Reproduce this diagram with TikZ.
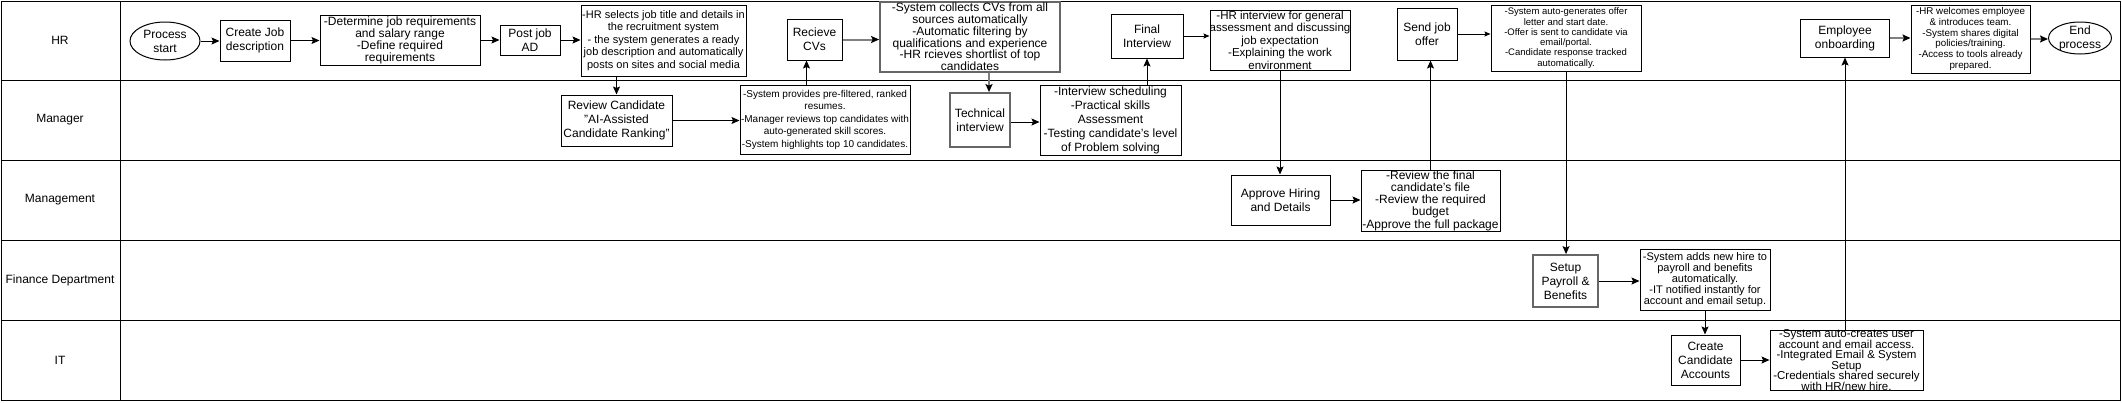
\documentclass[tikz,border=0pt]{standalone}
\usepackage{fontspec}
\setmainfont{Liberation Sans}
\usetikzlibrary{arrows.meta,shapes.geometric}
\newcommand{\fs}[2]{\fontsize{#1}{#2}\selectfont\lineskiplimit=-20pt\relax}
\tikzset{
  box/.style={draw=black, line width=1pt, fill=white, inner sep=0pt, rectangle},
  gbox/.style={draw=black!60, line width=1.8pt, fill=white, inner sep=0pt, rectangle},
  oval/.style={draw=black, line width=1pt, fill=white, ellipse, inner sep=0pt},
  txt/.style={align=center, inner sep=0pt},
  conn/.style={draw=black, line width=1pt, -{Stealth[length=8pt,width=7pt,inset=1.5pt]}},
  thinconn/.style={draw=black, line width=0.8pt, -{Stealth[length=6pt,width=5pt,inset=1pt]}},
  gconn/.style={draw=black!50, line width=2pt, -{Stealth[length=8pt,width=7pt,inset=1.5pt,color=black]}},
  lane/.style={align=center, inner sep=0pt, font=\fs{12}{14}},
  laneline/.style={draw=black, line width=1pt},
}
\newcommand{\bx}[7]{%
  \node[#1, minimum width=#4pt, minimum height=#5pt] (#2) at (#3) {};
  \node[txt, font={#6}] (#2t) at (#2.center) {#7};}
\begin{document}
\begin{tikzpicture}[x=1pt,y=-1pt]
\useasboundingbox (0,0) rectangle (2122,402);
% lanes
\draw[laneline] (1,1) rectangle (2120,400);
\foreach \yy in {80,160,240,320} \draw[laneline] (1,\yy) -- (2120,\yy);
\draw[laneline] (120,1) -- (120,400);
\node[lane] (lhr) at (60,40) {HR};
\node[lane] (lman) at (60,120) {Manager};
\node[lane] (lmgmt) at (60,200) {Management};
\node[lane] (lfin) at (60,280) {Finance Department};
\node[lane] (lit) at (60,360) {IT};
% HR lane
\bx{oval}{start}{165,41}{70}{38}{\fs{12}{14}}{Process\\start}
\bx{box}{cjd}{255,40.5}{70}{41}{\fs{12}{14}}{Create Job\\description}
\bx{box}{det}{400,40}{160}{50}{\fs{12}{12}}{-Determine job requirements\\and salary range\\-Define required\\requirements}
\bx{box}{post}{530,40}{60}{30}{\fs{12}{14}}{Post job\\AD}
\bx{box}{hrsel}{663.5,40.5}{165}{71}{\fs{11}{12.5}}{-HR selects job title and details in\\the recruitment system\\- the system generates a ready\\job description and automatically\\posts on sites and social media}
\bx{box}{rcv}{814.5,39.5}{55}{41}{\fs{12}{14}}{Recieve\\CVs}
\bx{gbox}{col}{970,37}{180}{70}{\fs{12}{11.8}}{-System collects CVs from all\\sources automatically\\-Automatic filtering by\\qualifications and experience\\-HR rcieves shortlist of top\\candidates}
\bx{box}{fin}{1147,36}{72}{44}{\fs{12}{14}}{Final\\Interview}
\bx{box}{hri}{1280,40}{140}{60}{\fs{11.5}{12.5}}{-HR interview for general\\assessment and discussing\\job expectation\\-Explaining the work\\environment}
\bx{box}{sjo}{1427,34}{60}{52}{\fs{12}{14}}{Send job\\offer}
\bx{box}{sag}{1566,38}{150}{66}{\fs{9.5}{10.3}}{-System auto-generates offer\\letter and start date.\\-Offer is sent to candidate via\\email/portal.\\-Candidate response tracked\\automatically.}
\bx{box}{onb}{1845,38}{89}{38}{\fs{12}{14}}{Employee\\onboarding}
\bx{box}{hrw}{1970.5,39}{119}{68}{\fs{9.8}{10.9}}{-HR welcomes employee\\\& introduces team.\\-System shares digital\\policies/training.\\-Access to tools already\\prepared.}
\bx{oval}{endp}{2080,38}{63}{32}{\fs{12}{14}}{End\\process}
% Manager lane
\bx{box}{rvc}{616.5,120.5}{111}{51}{\fs{12}{14}}{Review Candidate\\"AI-Assisted\\Candidate Ranking"}
\bx{box}{sp}{825,119.5}{170}{69}{\fs{10}{12.5}}{-System provides pre-filtered, ranked\\resumes.\\-Manager reviews top candidates with\\auto-generated skill scores.\\-System highlights top 10 candidates.}
\bx{gbox}{tec}{980,120}{60}{54}{\fs{12}{14}}{Technical\\interview}
\bx{box}{isch}{1110.5,120}{141}{70}{\fs{12}{14}}{-Interview scheduling\\-Practical skills\\Assessment\\-Testing candidate's level\\of Problem solving}
% Management lane
\bx{box}{aph}{1280.5,200}{99}{50}{\fs{12}{14}}{Approve Hiring\\and Details}
\bx{box}{rvf}{1430.5,200.5}{139}{61}{\fs{12}{12.3}}{-Review the final\\candidate's file\\-Review the required\\budget\\-Approve the full package}
% Finance lane
\bx{gbox}{spb}{1565.5,281}{65}{52}{\fs{12}{14}}{Setup\\Payroll \&\\Benefits}
\bx{box}{sad}{1705,279.5}{130}{61}{\fs{11}{11}}{-System adds new hire to\\payroll and benefits\\automatically.\\-IT notified instantly for\\account and email setup.}
% IT lane
\bx{box}{cca}{1705.5,360}{69}{50}{\fs{12}{14}}{Create\\Candidate\\Accounts}
\bx{box}{sac}{1846.5,360}{153}{60}{\fs{11.5}{10.6}}{-System auto-creates user\\account and email access.\\-Integrated Email \& System\\Setup\\-Credentials shared securely\\with HR/new hire.}
% connectors
\draw[conn] (start.east) -- (start.east -| cjd.west);
\draw[conn] (cjd.east) -- (cjd.east -| det.west);
\draw[conn] (det.east) -- (det.east -| post.west);
\draw[conn] (post.east) -- (post.east -| hrsel.west);
\draw[conn] (hrsel.south -| rvc.north) -- (rvc.north);
\draw[conn] (rvc.east) -- (rvc.east -| sp.west);
\draw[conn] ([xshift=-8pt]rcv.south |- sp.north) -- ([xshift=-8pt]rcv.south);
\draw[gconn] (rcv.east) -- (rcv.east -| col.west);
\draw[gconn] ([xshift=9pt]tec.north |- col.south) -- ([xshift=9pt]tec.north);
\draw[conn] ([yshift=-2pt]tec.east) -- ([yshift=-2pt]tec.east -| isch.west);
\draw[conn] (isch.north -| fin.south) -- (fin.south);
\draw[thinconn] (fin.east) -- (fin.east -| hri.west);
\draw[conn] (hri.south) -- (hri.south |- aph.north);
\draw[conn] (aph.east) -- (aph.east -| rvf.west);
\draw[conn] (rvf.north) -- (rvf.north |- sjo.south);
\draw[thinconn] (sjo.east) -- (sjo.east -| sag.west);
\draw[conn] (sag.south) -- (sag.south |- spb.north);
\draw[conn] (spb.east) -- (spb.east -| sad.west);
\draw[conn] (sad.south) -- (sad.south |- cca.north);
\draw[conn] (cca.east) -- (cca.east -| sac.west);
\draw[conn] (sac.north -| onb.south) -- (onb.south);
\draw[gconn] (onb.east) -- (onb.east -| hrw.west);
\draw[gconn] (hrw.east) -- (hrw.east -| endp.west);
\end{tikzpicture}
\end{document}
